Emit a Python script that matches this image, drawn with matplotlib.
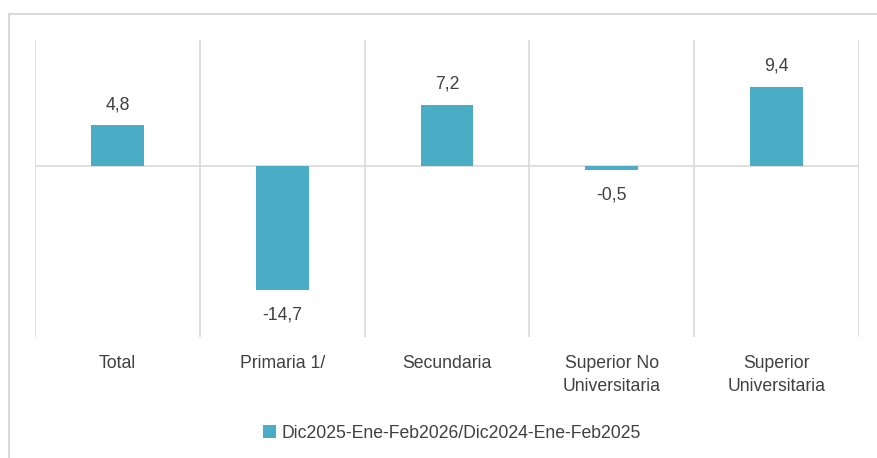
import matplotlib
matplotlib.use("Agg")
import matplotlib.pyplot as plt
from matplotlib.lines import Line2D

categories = ["Total", "Primaria 1/", "Secundaria", "Superior No\nUniversitaria", "Superior\nUniversitaria"]
values = [4.8, -14.7, 7.2, -0.5, 9.4]
series_name = "Dic2025-Ene-Feb2026/Dic2024-Ene-Feb2025"

BAR = "#4BACC6"
GRID = "#D9D9D9"
TXT = "#404040"
W, H = 877, 458

plt.rcParams["font.family"] = ["Liberation Sans", "DejaVu Sans"]

fig = plt.figure(figsize=(W / 100, H / 100), dpi=100)
ax = fig.add_axes([35 / W, (H - 337) / H, (859 - 35) / W, (337 - 40) / H])

x = list(range(len(categories)))
bars = ax.bar(x, values, width=0.32, color=BAR, label=series_name, zorder=3)

ax.set_xlim(-0.5, len(categories) - 0.5)
ax.set_ylim(-20.2, 14.9)

# category separators + zero line
for b in [i - 0.5 for i in range(len(categories) + 1)]:
    ax.axvline(b, color=GRID, lw=1.2, zorder=1)
ax.axhline(0, color=GRID, lw=1.2, zorder=2)

for xi, v in zip(x, values):
    off = 15 if v >= 0 else -18
    ax.annotate(f"{v:.1f}".replace(".", ","), (xi, v), xytext=(0, off),
                textcoords="offset points", ha="center", va="center",
                fontsize=12.7, color=TXT)

ax.set_xticks(x)
ax.set_xticklabels(categories, fontsize=12.7, color=TXT, linespacing=1.45)
ax.tick_params(axis="x", length=0, pad=13)
ax.set_yticks([])
for s in ax.spines.values():
    s.set_visible(False)

# outer chart border: only top and left edges are inside the picture
bx, by = 8.5 / W, 1 - 13.5 / H
fig.add_artist(Line2D([bx, 1.0], [by, by], transform=fig.transFigure, color=GRID, lw=1.5))
fig.add_artist(Line2D([bx, bx], [0.0, by], transform=fig.transFigure, color=GRID, lw=1.5))

fig.legend(handles=[bars], loc="center", bbox_to_anchor=(452 / W, 1 - 433 / H),
           frameon=False, fontsize=12.7, labelcolor=TXT, handlelength=0.75,
           handleheight=0.75, handletextpad=0.3)

fig.savefig("out.png", dpi=100, facecolor="white")
